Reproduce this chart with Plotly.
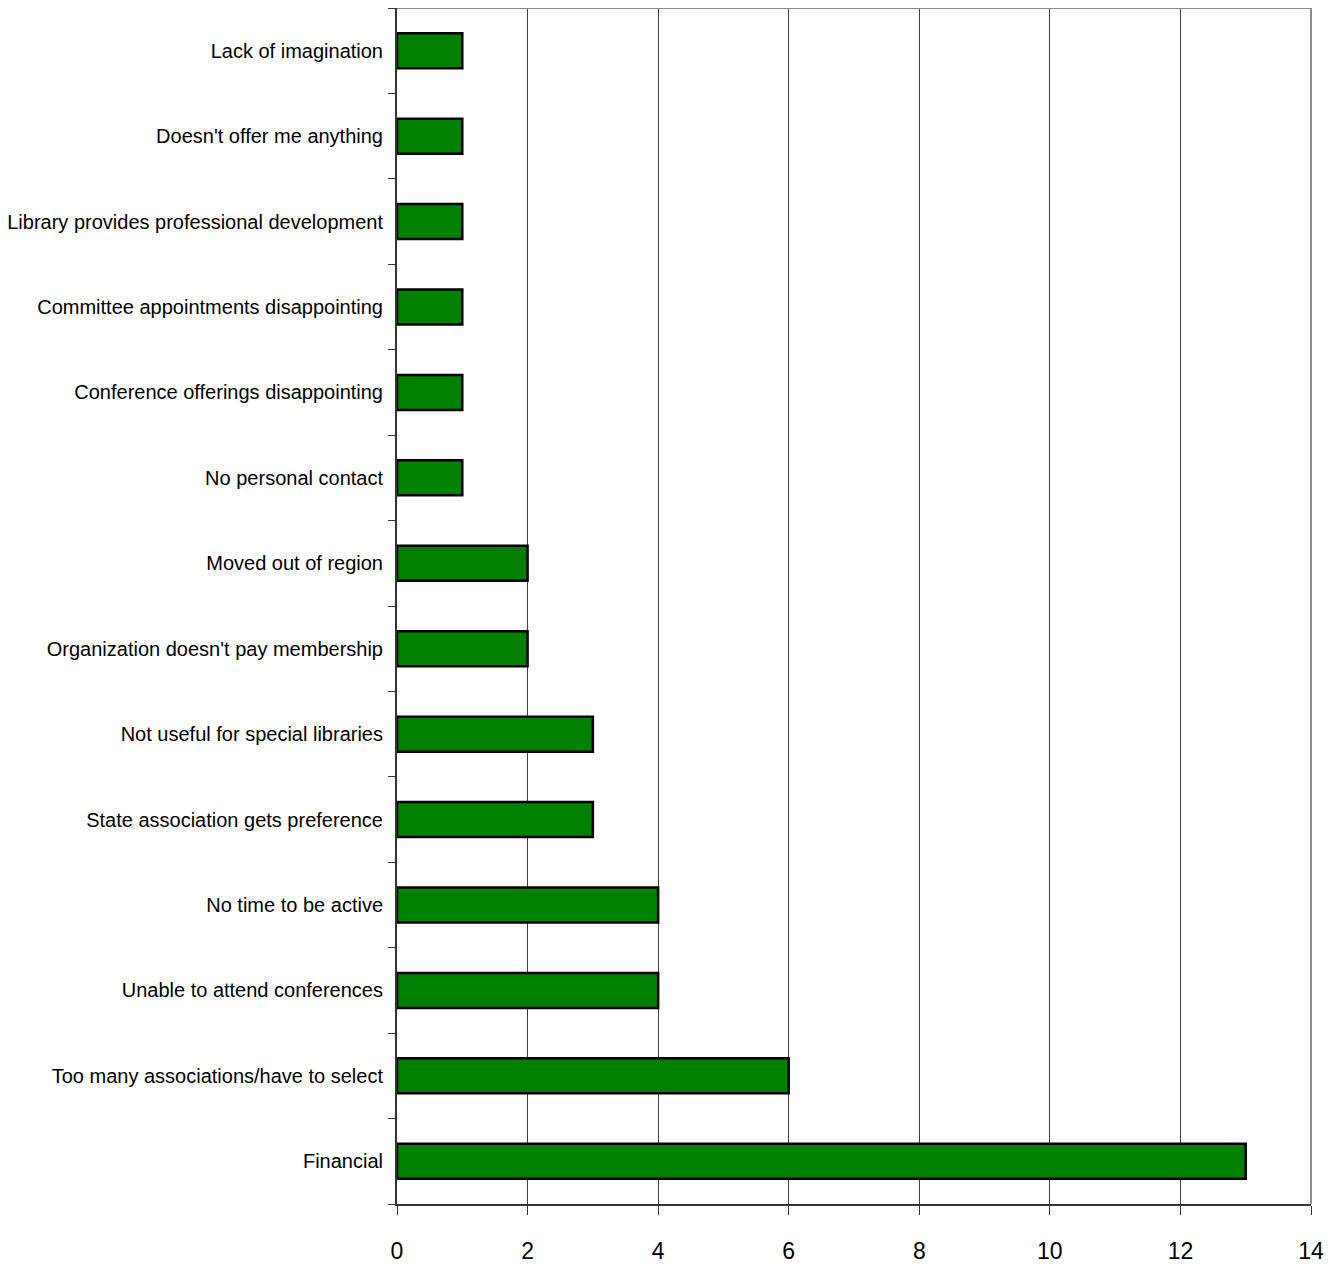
import plotly.graph_objects as go

categories = [
    "Financial",
    "Too many associations/have to select",
    "Unable to attend conferences",
    "No time to be active",
    "State association gets preference",
    "Not useful for special libraries",
    "Organization doesn't pay membership",
    "Moved out of region",
    "No personal contact",
    "Conference offerings disappointing",
    "Committee appointments disappointing",
    "Library provides professional development",
    "Doesn't offer me anything",
    "Lack of imagination",
]
values = [13, 6, 4, 4, 3, 3, 2, 2, 1, 1, 1, 1, 1, 1]
x_ticks = [0, 2, 4, 6, 8, 10, 12, 14]

FONT = "Liberation Sans Narrow, Arial Narrow, Liberation Sans, Arial, sans-serif"

fig = go.Figure(
    go.Bar(
        x=values,
        y=categories,
        orientation="h",
        marker=dict(color="#008000", line=dict(color="#000000", width=2.5)),
        width=0.41,
    )
)

fig.update_layout(
    width=1330,
    height=1256,
    margin=dict(l=389, r=27, t=0, b=60, autoexpand=False),
    paper_bgcolor="white",
    plot_bgcolor="white",
    showlegend=False,
    font=dict(family=FONT, size=20, color="#000000"),
    shapes=[
        dict(type="line", xref="paper", yref="paper", x0=0, x1=1, y0=1, y1=1,
             line=dict(color="#8c8c8c", width=2)),
        dict(type="line", xref="paper", yref="paper", x0=1, x1=1, y0=0, y1=1,
             line=dict(color="#8c8c8c", width=2)),
    ],
)

fig.update_xaxes(
    range=[0, 14],
    tickvals=x_ticks,
    ticktext=[str(v) for v in x_ticks],
    showgrid=True,
    gridcolor="#404040",
    gridwidth=1,
    showline=True,
    linecolor="#333333",
    linewidth=2,
    ticks="outside",
    ticklen=9,
    tickcolor="#333333",
    tickfont=dict(family=FONT, size=23),
    ticklabelstandoff=16,
    zeroline=False,
    automargin=False,
    fixedrange=True,
)
fig.update_yaxes(
    categoryorder="array",
    categoryarray=categories,
    showline=True,
    linecolor="#333333",
    linewidth=2,
    ticks="outside",
    tickson="boundaries",
    ticklen=7,
    tickcolor="#333333",
    showgrid=False,
    tickfont=dict(family=FONT, size=20),
    ticklabelstandoff=8,
    automargin=False,
    fixedrange=True,
)

fig.write_html("out.html")
